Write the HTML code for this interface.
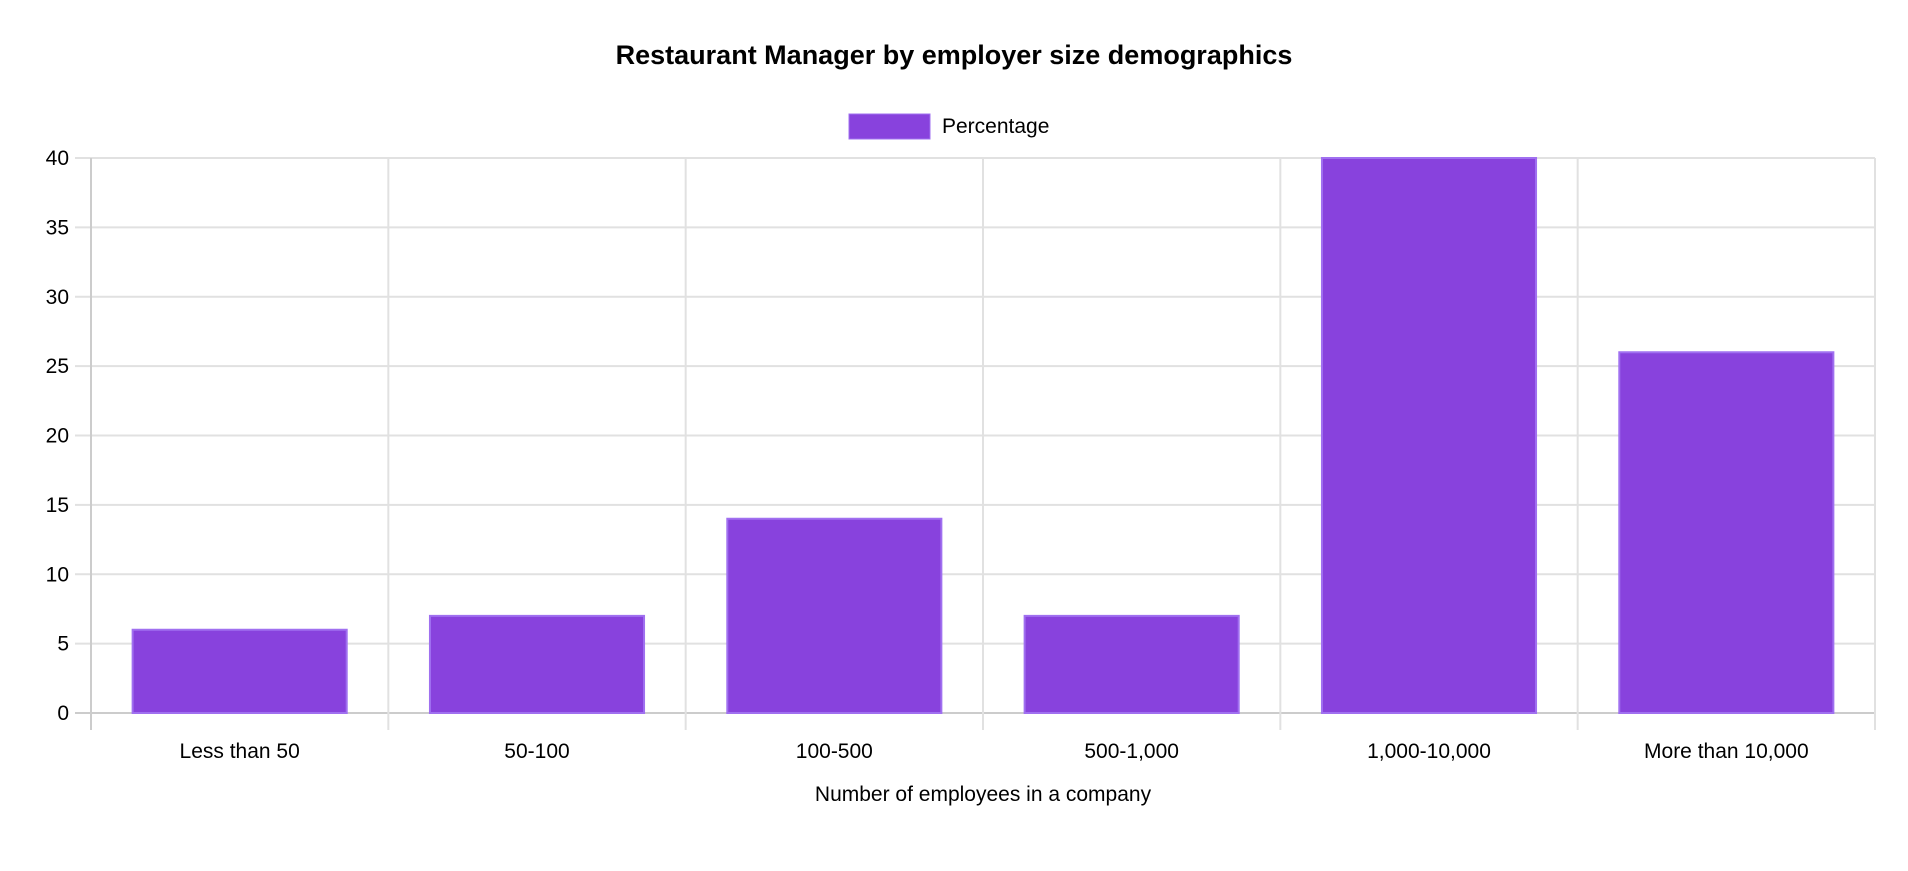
<!DOCTYPE html>
<html><head><meta charset="utf-8"><style>
body{margin:0;background:#fff;font-family:"Liberation Sans",Arial,sans-serif}
svg text{font-family:"Liberation Sans",Arial,sans-serif;fill:#000}
</style></head><body>
<svg id="chart" width="1908" height="866" xmlns="http://www.w3.org/2000/svg">
<text x="954" y="64" text-anchor="middle" font-size="27" font-weight="bold">Restaurant Manager by employer size demographics</text>
<g>
<rect x="849" y="114" width="81" height="25" fill="#8842dd" stroke="#a070f0" stroke-width="1"/>
<text x="942" y="133" font-size="21">Percentage</text>
</g>
<g id="grid"></g><g id="bars"></g><g id="labels"></g>
<text x="983" y="801" text-anchor="middle" font-size="21">Number of employees in a company</text>
</svg>
<script>
const categories=["Less than 50","50-100","100-500","500-1,000","1,000-10,000","More than 10,000"];
const values=[6,7,14,7,40,26];
const yTicks=[0,5,10,15,20,25,30,35,40];
const NS="http://www.w3.org/2000/svg";
const L=91,R=1875,T=158,B=713,yMax=40;
const y=v=>B-(v/yMax)*(B-T);
const cw=(R-L)/categories.length;
const x=i=>L+i*cw;
function mk(tag,a,p){const e=document.createElementNS(NS,tag);for(const k in a)e.setAttribute(k,a[k]);p.appendChild(e);return e;}
const g=document.getElementById('grid'),b=document.getElementById('bars'),lb=document.getElementById('labels');
yTicks.forEach(t=>{
  const l=mk('line',{x1:L-16,x2:R,y1:y(t),y2:y(t),stroke:t===0?'#ccc':'#e1e1e1','stroke-width':2},g);
  
  
  const tx=mk('text',{x:L-22,y:y(t)+7,'text-anchor':'end','font-size':21},lb);
  tx.textContent=t;
  
  
});
for(let i=0;i<=categories.length;i++){
  const l=mk('line',{x1:x(i),x2:x(i),y1:T,y2:B+17,stroke:i===0?'#ccc':'#e1e1e1','stroke-width':2},g);
  
  
}
categories.forEach((c,i)=>{
  const bw=cw*0.72,bx=x(i)+(cw-bw)/2;
  const r=mk('rect',{x:bx,y:y(values[i]),width:bw,height:B-y(values[i]),fill:'#8842dd',stroke:'#a070f0','stroke-width':2},b);
  
  
  const tx=mk('text',{x:x(i)+cw/2,y:758,'text-anchor':'middle','font-size':21},lb);
  tx.textContent=c;
  
  
});
</script>
</body></html>
